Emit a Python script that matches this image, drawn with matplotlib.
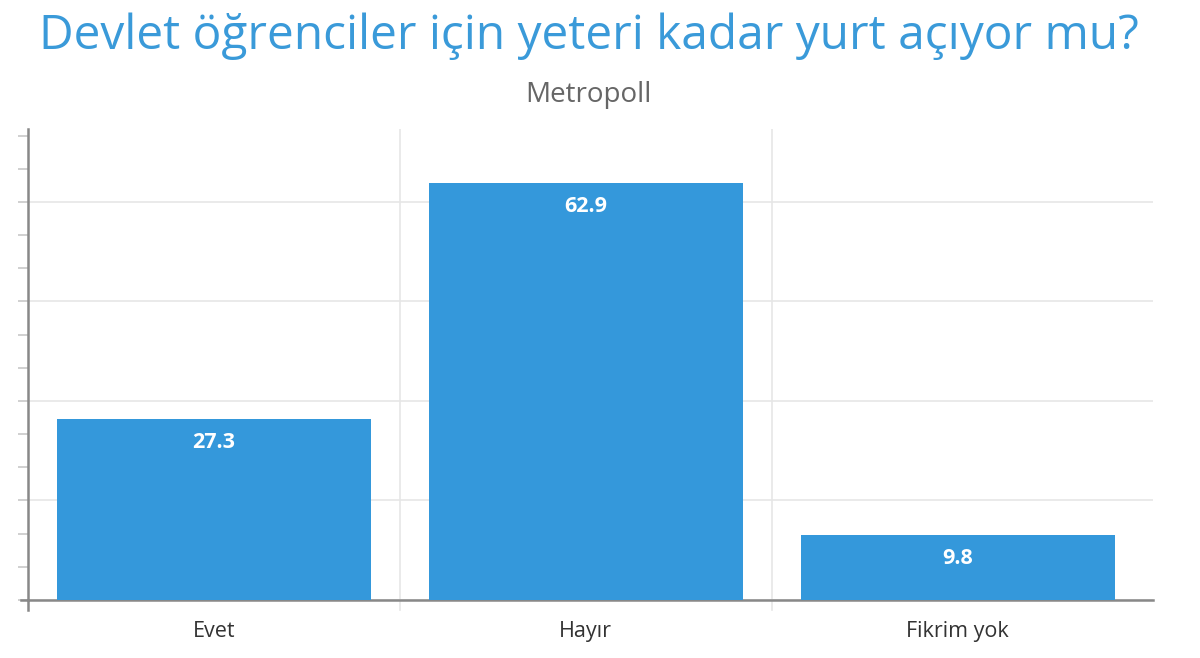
import matplotlib

matplotlib.use("Agg")
import matplotlib.pyplot as plt
from matplotlib.ticker import MultipleLocator

plt.rcParams["font.family"] = ["Open Sans", "DejaVu Sans"]

# Metropoll anket sonuçları (%)
categories = ["Evet", "Hayır", "Fikrim yok"]
values = [27.3, 62.9, 9.8]

title = "Devlet öğrenciler için yeteri kadar yurt açıyor mu?"
subtitle = "Metropoll"

BAR_COLOR = "#3498db"
TITLE_COLOR = "#3a9ad9"
GRID_COLOR = "#e6e6e6"

figure = plt.figure(figsize=(12, 6.58), dpi=100)
axis = figure.add_axes([0.0233, 0.0881, 0.9375, 0.716])

x = range(len(categories))
bars = axis.bar(x, values, width=0.845, color=BAR_COLOR, zorder=3)

axis.set_xlim(-0.5, len(categories) - 0.475)
axis.set_ylim(0, 71)

# yatay ızgara her 15 birimde, küçük tikler 5 birimde
axis.yaxis.set_major_locator(MultipleLocator(15))
axis.yaxis.set_minor_locator(MultipleLocator(5))
axis.grid(axis="y", which="major", color=GRID_COLOR, linewidth=1.2, zorder=0)
axis.set_yticklabels([])
axis.tick_params(axis="y", which="both", length=7, color="#c8c8c8", width=1.2, direction="out")

# kategori sınırlarında dikey çizgiler
for boundary in [0.5, 1.5]:
    axis.axvline(boundary, color=GRID_COLOR, linewidth=1.2, zorder=0)
    axis.plot([boundary, boundary], [0, -1.5], color=GRID_COLOR, linewidth=1.2,
              clip_on=False, zorder=0)

axis.set_xticks(list(x))
axis.set_xticklabels(categories, fontsize=15.5, color="#333333")
axis.tick_params(axis="x", length=0, pad=15)

for side in ("top", "right"):
    axis.spines[side].set_visible(False)
axis.spines["left"].set_color("#888888")
axis.spines["left"].set_linewidth(1.8)
axis.spines["left"].set_bounds(-1.5, 71)
axis.spines["bottom"].set_color("#888888")
axis.spines["bottom"].set_linewidth(1.8)
axis.plot([-0.52, -0.5], [0, 0], color="#888888", linewidth=1.8, clip_on=False)

for bar, value in zip(bars, values):
    axis.text(
        bar.get_x() + bar.get_width() / 2,
        value - 3.6,
        f"{value:.1f}",
        ha="center",
        va="center",
        fontsize=15.5,
        fontweight="bold",
        color="white",
        zorder=4,
    )

figure.text(0.491, 0.945, title, ha="center", va="center", fontsize=34.5, color=TITLE_COLOR)
figure.text(0.49, 0.855, subtitle, ha="center", va="center", fontsize=20, color="#666666")

figure.savefig("out.png", dpi=100)
plt.close(figure)
